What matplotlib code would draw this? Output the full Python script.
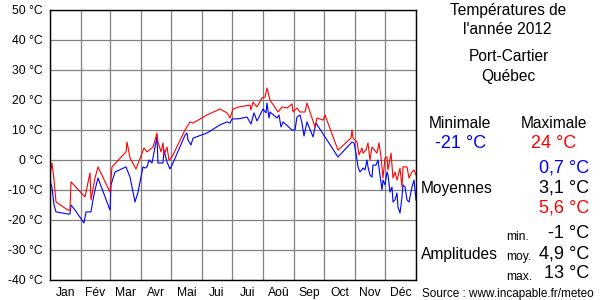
import matplotlib
matplotlib.use("Agg")
import matplotlib.pyplot as plt
from matplotlib.ticker import FixedLocator, NullFormatter

plt.rcParams['font.family'] = ['Liberation Sans', 'DejaVu Sans']

# Daily maximum temperatures (day of year, °C)
max_days = [0, 2, 4, 6, 18, 20, 21, 35, 40, 41, 45, 48, 60, 62, 76, 77, 80, 86, 94, 97,
            103, 107, 108, 111, 113, 114, 117, 119, 122, 135, 140, 143, 157, 170, 177, 180,
            183, 189, 200, 201, 203, 207, 212, 215, 217, 218, 220, 228, 232, 237, 242, 243,
            247, 250, 255, 257, 265, 267, 273, 275, 278, 288, 301, 302, 303, 307, 309, 312,
            313, 316, 318, 320, 322, 327, 329, 331, 333, 335, 337, 338, 341, 343, 345, 347,
            350, 352, 353, 357, 359, 362, 364, 366]
max_temps = [-5, -1, -6.7, -14, -16.7, -16.7, -7.3, -12.3, -4.3, -13.3, -6, -2.3, -10.7, -2.3,
             2.7, 6, 0.7, -3, 4, 2.7, 4.3, 9, 6, 2.7, 5.7, 1.7, 4.3, 0, 1, 10, 12.7, 12.3, 15,
             17, 15.7, 14, 17, 17.7, 18.3, 16.7, 19.3, 17.7, 20.7, 21, 24, 22.7, 20, 16, 17.7,
             17.3, 18.7, 16, 17.3, 16, 16, 19, 11, 14, 13.3, 15, 12.3, 3.3, 7.3, 10, 7.3, 6,
             1.7, 4, 2.3, 3.3, 5.7, 0, 4.3, 2.3, 5.7, 1, -6, 0.7, 1, -3.3, 2.3, -6, -4, -6.7,
             -2.7, -9, -2.3, -2.3, -6, -4, -3.3, -5]

# Daily minimum temperatures (day of year, °C)
min_days = [0, 2, 4, 6, 18, 20, 21, 25, 34, 36, 41, 43, 45, 48, 60, 61, 65, 76, 80, 85, 88,
            93, 95, 97, 99, 102, 105, 107, 108, 113, 114, 117, 120, 123, 135, 137, 138, 141,
            143, 157, 170, 177, 180, 182, 188, 197, 201, 204, 207, 213, 216, 217, 219, 220,
            227, 229, 231, 233, 242, 245, 247, 250, 252, 254, 257, 263, 266, 275, 288, 302,
            304, 306, 308, 310, 313, 315, 317, 318, 320, 322, 323, 326, 328, 330, 332, 333,
            335, 337, 338, 340, 342, 343, 345, 347, 348, 350, 352, 353, 355, 357, 359, 362,
            364, 366]
min_temps = [-6.7, -9.3, -15, -17.3, -18, -18, -15, -16.7, -21, -17.3, -17.3, -13.3, -10, -6,
             -16.7, -8.3, -4, -2.3, -5.7, -14, -10.7, -2.3, -2.7, -2.3, 0, -1, 4.3, 7.7, -1,
             -1, 3.3, -0.7, -3, -1, 8.3, 9, 6.7, 5, 7.3, 9, 11.7, 12.7, 12.3, 13.7, 13.7, 14.3,
             12, 15.7, 13, 17, 15.7, 19, 14, 16, 14, 15, 11, 12.7, 10, 10, 14.3, 15, 12.3, 8,
             12.7, 7.7, 12.3, 7.7, 1, 6, 5.7, 2.3, -2.3, -4, -2.7, -3.3, 0, -2.3, -5, -5.7,
             -1.7, -1.7, 0, -5, -10, -6.7, -8.3, -4, -5, -10.7, -9, -14, -13.3, -11, -15.7,
             -17.7, -12.3, -8.3, -9, -13.3, -14, -9, -6.7, -13.3]

month_starts = [0, 31, 60, 91, 121, 152, 182, 213, 244, 274, 305, 335, 366]
month_labels = ['Jan', 'Fév', 'Mar', 'Avr', 'Mai', 'Jui', 'Jui', 'Aoû', 'Sep', 'Oct', 'Nov', 'Déc']
y_ticks = [-40, -30, -20, -10, 0, 10, 20, 30, 40, 50]

W, H = 600, 300
fig = plt.figure(figsize=(6, 3), dpi=100)
ax = fig.add_axes([50 / W, 20 / H, 366 / W, 270 / H])

ax.plot(min_days, min_temps, color='#0000ff', lw=0.8, zorder=3)
ax.plot(max_days, max_temps, color='#ff0000', lw=0.8, zorder=4)

ax.set_xlim(0, 366)
ax.set_ylim(-40, 50)
ax.xaxis.set_major_locator(FixedLocator(month_starts))
ax.xaxis.set_major_formatter(NullFormatter())
centers = [(month_starts[i] + month_starts[i + 1]) / 2 for i in range(12)]
ax.set_xticks(centers, minor=True)
ax.set_xticklabels(month_labels, minor=True)
ax.set_yticks(y_ticks)
ax.set_yticklabels([f"{v} °C" for v in y_ticks])
ax.tick_params(axis='both', which='both', length=0, labelsize=8.7)
ax.tick_params(axis='y', pad=5)
ax.tick_params(axis='x', which='minor', pad=5)
ax.grid(True, which='major', color='#808080', lw=0.9, zorder=1)
for s in ax.spines.values():
    s.set_color('black')
    s.set_linewidth(1.0)
    s.set_zorder(5)

def t(x, y, s, **kw):
    kw.setdefault('va', 'center')
    kw.setdefault('ha', 'center')
    fig.text(x / W, 1 - y / H, s, **kw)

t(508, 10, 'Températures de', fontsize=11.2)
t(507, 29, "l'année 2012", fontsize=11.2)
t(509, 57, 'Port-Cartier', fontsize=11.2)
t(508, 77, 'Québec', fontsize=11.2)
t(460, 124, 'Minimale', fontsize=11.2)
t(554, 124, 'Maximale', fontsize=11.2)
t(461, 143, '-21 °C', fontsize=13, color='#0000ff')
t(554, 143, '24 °C', fontsize=13, color='#ff0000')
t(589, 168, '0,7 °C', fontsize=13, color='#0000ff', ha='right')
t(589, 188, '3,1 °C', fontsize=13, color='black', ha='right')
t(589, 208, '5,6 °C', fontsize=13, color='#ff0000', ha='right')
t(421, 189, 'Moyennes', fontsize=11.2, ha='left')
t(421, 255, 'Amplitudes', fontsize=11.2, ha='left')
t(506, 237, 'min.', fontsize=8.7, ha='left')
t(506, 257, 'moy.', fontsize=8.7, ha='left')
t(506, 277, 'max.', fontsize=8.7, ha='left')
t(589, 233, '-1 °C', fontsize=13, ha='right')
t(589, 254, '4,9 °C', fontsize=13, ha='right')
t(589, 273, '13 °C', fontsize=13, ha='right')
t(422, 294, 'Source : www.incapable.fr/meteo', fontsize=8.5, ha='left')

fig.savefig('out.png', dpi=100)
